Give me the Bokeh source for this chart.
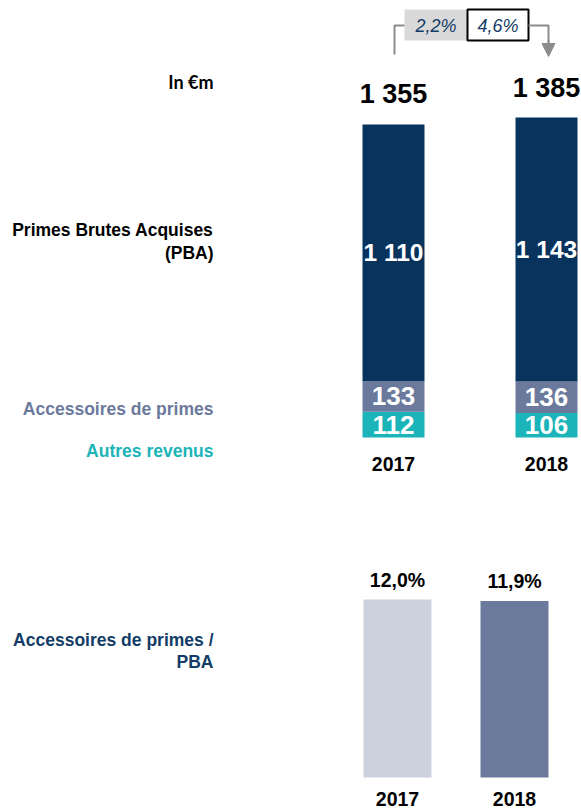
from bokeh.plotting import figure
from bokeh.models import Range1d, ColumnDataSource, Arrow, NormalHead
from bokeh.core.properties import value
from bokeh.embed import file_html
from bokeh.resources import INLINE

# ---------------- data ----------------
years = ["2017", "2018"]
pba = [1110, 1143]            # Primes Brutes Acquises
accessoires = [133, 136]      # Accessoires de primes
autres = [112, 106]           # Autres revenus
totals = [1355, 1385]
growth_labels = ["2,2%", "4,6%"]
ratio = [12.0, 11.9]          # Accessoires de primes / PBA (%)

def fmt_num(v):
    return f"{v:,}".replace(",", " ")

def fmt_pct(v):
    return f"{v:.1f}%".replace(".", ",")

# ---------------- styles ----------------
NAVY = "#07335D"
SLATE = "#6B7A9C"
TEAL = "#1BB4B8"
LIGHT = "#CCD1DE"
NAVY_TXT = "#133C67"
GRAY = "#8C8C8C"
SANS = value("Liberation Sans")

W, H = 581, 811

p = figure(width=W, height=H, output_backend="svg", toolbar_location=None,
           x_range=Range1d(0, W), y_range=Range1d(H, 0),
           x_axis_location=None, y_axis_location=None, min_border=0)
p.grid.visible = False
p.outline_line_color = None
p.background_fill_color = "white"


def value_range(zero_px, px_per_unit):
    return Range1d(start=(zero_px - H) / px_per_unit,
                   end=(zero_px - 0) / px_per_unit)

p.extra_y_ranges = {"eur": value_range(437, 0.2310),
                    "pct": value_range(777, 14.83)}

# ---------------- top stacked chart ----------------
top_x = [393, 546]
src = ColumnDataSource(dict(x=top_x, autres=autres, accessoires=accessoires, pba=pba))
p.vbar_stack(["autres", "accessoires", "pba"], x="x", width=62,
             color=[TEAL, SLATE, NAVY], line_color=None,
             source=src, y_range_name="eur")

mid_aut = [a / 2 for a in autres]
mid_acc = [a + c / 2 for a, c in zip(autres, accessoires)]
mid_pba = [a + c + b / 2 for a, c, b in zip(autres, accessoires, pba)]

seg_kw = dict(text_font=SANS, text_font_style="bold",
              text_color="white", text_align="center", text_baseline="middle",
              y_range_name="eur")
p.text(x=top_x, y=mid_aut, text=[fmt_num(v) for v in autres], text_font_size="26px", **seg_kw)
p.text(x=top_x, y=mid_acc, text=[fmt_num(v) for v in accessoires], text_font_size="26px", **seg_kw)
p.text(x=top_x, y=mid_pba, text=[fmt_num(v) for v in pba], text_font_size="24.5px", **seg_kw)

p.text(x=top_x, y=totals, text=[fmt_num(v) for v in totals], y_offset=-30,
       text_font=SANS, text_font_style="bold", text_font_size="27px",
       text_color="black", text_align="center", text_baseline="middle",
       y_range_name="eur")
p.text(x=top_x, y=[0, 0], text=years, y_offset=26,
       text_font=SANS, text_font_style="bold", text_font_size="19.5px",
       text_color="black", text_align="center", text_baseline="middle",
       y_range_name="eur")

# ---------------- growth annotation ----------------
p.quad(left=[404], right=[467], top=[9], bottom=[40], fill_color="#D9D9D9", line_color=None)
p.quad(left=[467], right=[528], top=[9], bottom=[40], fill_color="white",
       line_color="black", line_width=2)
p.text(x=[435.5, 497.5], y=[25, 25], text=growth_labels,
       text_font=SANS, text_font_style="italic", text_font_size="18px",
       text_color=NAVY_TXT, text_align="center", text_baseline="middle")
p.line(x=[394, 394, 404], y=[54, 25, 25], line_color=GRAY, line_width=2)
p.line(x=[528, 548, 548], y=[25, 25, 44], line_color=GRAY, line_width=2)
p.add_layout(Arrow(end=NormalHead(size=13, fill_color=GRAY, line_color=GRAY),
                   x_start=548, y_start=40, x_end=548, y_end=56,
                   line_color=GRAY, line_width=2))

# ---------------- bottom ratio chart ----------------
bot_x = [397, 514]
p.vbar(x=bot_x, top=ratio, width=68, color=[LIGHT, SLATE], line_color=None,
       y_range_name="pct")
p.text(x=bot_x, y=ratio, text=[fmt_pct(v) for v in ratio], y_offset=-20,
       text_font=SANS, text_font_style="bold", text_font_size="19.5px",
       text_color="black", text_align="center", text_baseline="middle",
       y_range_name="pct")
p.text(x=bot_x, y=[0, 0], text=years, y_offset=21,
       text_font=SANS, text_font_style="bold", text_font_size="19.5px",
       text_color="black", text_align="center", text_baseline="middle",
       y_range_name="pct")

# ---------------- left labels ----------------
lab_kw = dict(text_font=SANS, text_font_style="bold", text_font_size="17.5px",
              text_align="right", text_baseline="middle")
p.text(x=[213], y=[81], text=["In €m"], text_font=value("Lato"), text_font_style="bold",
       text_font_size="18px", text_align="right", text_baseline="middle", text_color="black")
p.text(x=[213, 213], y=[229, 252], text=["Primes Brutes Acquises", "(PBA)"],
       text_color="black", **lab_kw)
p.text(x=[213], y=[408], text=["Accessoires de primes"], text_color=SLATE, **lab_kw)
p.text(x=[213], y=[450], text=["Autres revenus"], text_color=TEAL, **lab_kw)
p.text(x=[213, 213], y=[639, 661], text=["Accessoires de primes /", "PBA"],
       text_color=NAVY_TXT, **lab_kw)

open("out.html", "w").write(file_html(p, INLINE))
